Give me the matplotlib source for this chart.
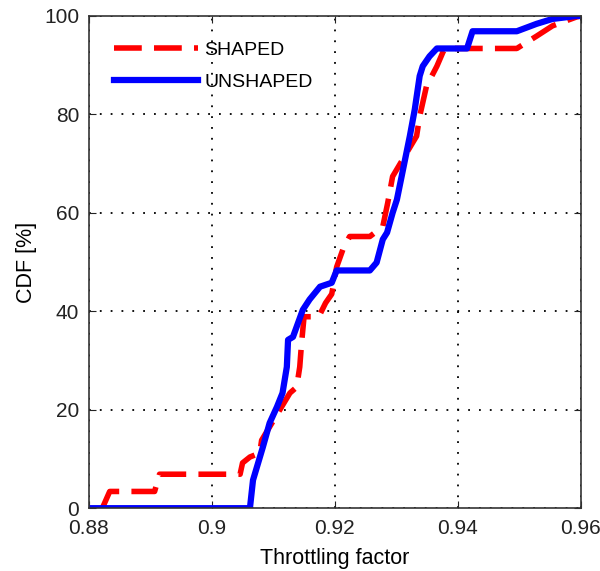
import numpy as np
import matplotlib
matplotlib.use("Agg")
import matplotlib.pyplot as plt

plt.rcParams['font.family'] = ['Liberation Sans', 'DejaVu Sans']

# CDF traces (throttling factor, CDF in %)
shaped_x = [0.8822, 0.8834, 0.8907, 0.8915, 0.9046, 0.9050, 0.9062, 0.9078,
            0.9081, 0.9127, 0.9138, 0.9143, 0.9146, 0.9150, 0.9174, 0.9185,
            0.9195, 0.9203, 0.9213, 0.9224, 0.9257, 0.9278, 0.9286, 0.9294,
            0.9333, 0.9338, 0.9349, 0.9366, 0.9376, 0.9380, 0.9496, 0.9528,
            0.9554, 0.9593, 0.9600]
shaped_y = [0.0, 3.4, 3.4, 6.9, 6.9, 9.2, 10.4, 11.2,
            13.8, 23.4, 24.6, 28.7, 33.6, 38.9, 38.9, 41.7,
            43.5, 49.0, 52.5, 55.2, 55.2, 57.2, 62.0, 67.4,
            75.6, 79.6, 85.7, 89.8, 92.7, 93.4, 93.4, 95.9,
            98.0, 99.8, 100.0]

unshaped_x = [0.8800, 0.9062, 0.9067, 0.9083, 0.9094, 0.9106, 0.9115, 0.9122,
              0.9124, 0.9132, 0.9148, 0.9159, 0.9176, 0.9195, 0.9203, 0.9257,
              0.9268, 0.9278, 0.9285, 0.9294, 0.9301, 0.9322, 0.9330, 0.9338,
              0.9343, 0.9354, 0.9366, 0.9415, 0.9424, 0.9496, 0.9528, 0.9554,
              0.9593, 0.9600]
unshaped_y = [0.0, 0.0, 5.7, 12.4, 17.3, 20.6, 23.4, 28.7,
              34.2, 34.8, 40.3, 42.4, 45.0, 45.8, 48.3, 48.3,
              49.9, 54.6, 56.0, 60.0, 62.7, 75.6, 81.0, 87.8,
              89.8, 91.8, 93.4, 93.4, 96.9, 96.9, 98.4, 99.4,
              100.0, 100.0]

fig = plt.figure(figsize=(6, 5.71), dpi=100)
ax = fig.add_axes([0.148, 0.110, 0.820, 0.862])

ax.plot(shaped_x, shaped_y, color="red", lw=4, dashes=(5, 2.2), label="SHAPED")
ax.plot(unshaped_x, unshaped_y, color="blue", lw=4.5, label="UNSHAPED")

ax.set_xlim(0.88, 0.96)
ax.set_ylim(0, 100)
ax.set_xticks([0.88, 0.9, 0.92, 0.94, 0.96])
ax.set_xticklabels(["0.88", "0.9", "0.92", "0.94", "0.96"])
ax.set_yticks([0, 20, 40, 60, 80, 100])

ax.grid(True, color="black", linestyle=(0, (1, 5)), linewidth=1.3)
ax.tick_params(direction="in", top=True, right=True, length=5,
               labelsize=15, colors="#222222")
ax.tick_params(axis="x", pad=8)
ax.tick_params(axis="y", pad=7)
for s in ax.spines.values():
    s.set_color("#333333")
    s.set_linewidth(1.2)

ax.set_xlabel("Throttling factor", fontsize=15.5, labelpad=7)
ax.set_ylabel("CDF [%]", fontsize=15.5, labelpad=5)

ax.legend(loc="upper left", frameon=False, fontsize=14, handlelength=4.3,
          handletextpad=0.35, labelspacing=0.75, borderaxespad=0.9)

fig.savefig("out.png", dpi=100)
